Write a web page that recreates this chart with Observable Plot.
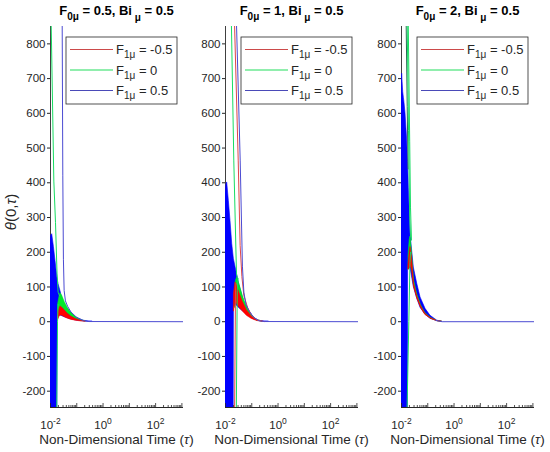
<!DOCTYPE html>
<html><head><meta charset="utf-8">
<script src="https://cdn.jsdelivr.net/npm/d3@7"></script>
<script src="https://cdn.jsdelivr.net/npm/@observablehq/plot@0.6"></script>
<style>
body{margin:0;background:#fff;}
#wrap{position:relative;width:550px;height:452px;overflow:hidden;font-family:"Liberation Sans",Arial,sans-serif;background:#fff;}
#wrap svg{position:absolute;top:0;}
</style></head><body><div id="wrap"></div>
<script>
// ---------- data ----------
const f0Values = ["0.5", "1", "2"];
const biValue = "0.5";
const f1Values = ["-0.5", "0", "0.5"];
const yTicks = [-200, -100, 0, 100, 200, 300, 400, 500, 600, 700, 800];
const xDecades = [0.01, 0.1, 1, 10, 100, 1000];
const xLabelTicks = [0.01, 1, 100];
const xLabelExp = ["-2", "0", "2"];
const xDomain = [0.01, 1150];
const yDomain = [-247, 850];

// Panel 1 : F0 = 0.5
const p1BlueT   = [0.01, 0.0106, 0.0116, 0.0135, 0.0155, 0.0182, 0.0186, 0.0202, 0.024, 0.0279, 0.0372, 0.0578, 0.104, 0.181, 0.28, 0.4];
const p1BlueTop = [235, 248, 252, 215, 175, 128, 124, 108, 88, 68, 45, 25, 11, 3, 0.5, 0];
const p1BlueBot = [-260, -260, -260, -260, -260, -260, 15, 18, 18, 16, 12, 7, 3, 1, 0, 0];
const p1GreenT   = [0.0195, 0.022, 0.024, 0.028, 0.035, 0.045, 0.06, 0.09, 0.14, 0.22];
const p1GreenTop = [50, 72, 82, 74, 56, 40, 27, 14, 5, 1];
const p1GreenBot = [20, 36, 42, 40, 32, 24, 16, 8, 3, 0.5];
const p1RedT   = [0.0195, 0.022, 0.024, 0.028, 0.035, 0.045, 0.06, 0.09, 0.14, 0.22];
const p1RedTop = [28, 38, 44, 40, 32, 23, 15, 8, 3, 0.5];
const p1RedBot = [5, 14, 18, 17, 13, 9, 6, 3, 1, 0];
const p1GreenDownT = [0.0104, 0.0134, 0.0155, 0.0177, 0.0195, 0.022];
const p1GreenDownV = [900, 405, 285, 140, 85, 75];
const p1GreenUpT = [0.0172, 0.0185, 0.0195];
const p1GreenUpV = [-260, 0, 50];
const p1BlueLineT = [0.0277, 0.0294, 0.031, 0.033, 0.037, 0.045, 0.06, 0.1, 0.18, 0.3, 1150];
const p1BlueLineV = [900, 420, 180, 90, 60, 44, 28, 12, 3, 0.5, 0];

// Panel 2 : F0 = 1
const p2BlueT   = [0.01, 0.0108, 0.0116, 0.0134, 0.0155, 0.018, 0.0205, 0.0209, 0.024, 0.0321, 0.0498, 0.0772, 0.1195, 0.185, 0.3, 0.45];
const p2BlueTop = [370, 395, 401, 348, 290, 224, 185, 180, 158, 112, 60, 32, 12, 3, 0.5, 0];
const p2BlueBot = [-260, -260, -260, -260, -260, -260, -260, 40, 50, 40, 28, 16, 7, 2, 0, 0];
const p2GreenT   = [0.0225, 0.025, 0.028, 0.033, 0.045, 0.065, 0.1, 0.16, 0.26];
const p2GreenTop = [90, 118, 128, 110, 75, 42, 18, 5, 0.5];
const p2GreenBot = [40, 70, 85, 75, 50, 28, 12, 3, 0];
const p2RedT   = [0.021, 0.024, 0.028, 0.033, 0.045, 0.065, 0.1, 0.16, 0.26];
const p2RedTop = [80, 113, 100, 85, 58, 33, 14, 4, 0.4];
const p2RedBot = [30, 55, 50, 42, 30, 17, 8, 2, 0];
const p2GreenDownT = [0.0164, 0.0207, 0.0262, 0.028];
const p2GreenDownV = [900, 463, 137, 128];
const p2RedDownT = [0.0213, 0.0305, 0.036, 0.042, 0.05, 0.07, 0.1, 0.16, 0.3];
const p2RedDownV = [900, 463, 220, 130, 75, 40, 18, 5, 0.5];
const p2BlueDownT = [0.0253, 0.0363, 0.044, 0.05, 0.06, 0.08, 0.12, 0.185, 0.3, 1150];
const p2BlueDownV = [900, 463, 160, 85, 50, 30, 12, 3, 0.5, 0];
const p2GreenUpT = [0.0258, 0.0279, 0.03];
const p2GreenUpV = [-260, 89, 125];
const p2RedUpT = [0.0222, 0.024, 0.025];
const p2RedUpV = [-260, 89, 110];

// Panel 3 : F0 = 2
const p3BlueT   = [0.01, 0.0103, 0.0106, 0.011, 0.0116, 0.0123, 0.013, 0.0142, 0.0165, 0.0175, 0.0178, 0.019, 0.022, 0.0294, 0.0397, 0.053, 0.082, 0.127, 0.229, 0.35];
const p3BlueTop = [640, 690, 714, 690, 661, 645, 630, 600, 521, 470, 460, 386, 252, 156, 109, 70, 37, 17, 3, 0];
const p3BlueBot = [-260, -260, -260, -260, -260, -260, -260, -260, -260, -260, 150, 150, 155, 100, 66, 40, 20, 8.5, 1.5, 0];
const p3GreenT   = [0.0185, 0.0205, 0.022, 0.025, 0.03, 0.04, 0.055, 0.08, 0.13, 0.23, 0.35];
const p3GreenTop = [190, 235, 245, 200, 120, 78, 48, 25, 11, 2, 0];
const p3GreenBot = [150, 175, 185, 160, 105, 70, 43, 22, 9.5, 1.8, 0];
const p3RedT   = [0.0185, 0.0205, 0.022, 0.025, 0.03, 0.04, 0.055, 0.08, 0.13, 0.23, 0.35];
const p3RedTop = [165, 200, 215, 185, 110, 72, 45, 23, 10, 1.9, 0];
const p3RedBot = [150, 155, 160, 150, 100, 66, 40, 20, 8.5, 1.5, 0];
const p3DarkDownT = [0.0148, 0.0165, 0.0178];
const p3DarkDownV = [900, 620, 440];
const p3GreenDownAT = [0.0162, 0.0185, 0.0205, 0.022];
const p3GreenDownAV = [900, 550, 300, 245];
const p3GreenDownBT = [0.0178, 0.0205, 0.022, 0.024];
const p3GreenDownBV = [900, 520, 330, 235];
const p3GreenUpT = [0.0162, 0.019, 0.021, 0.022];
const p3GreenUpV = [-260, 0, 170, 200];
const p3BlueLineT = [0.2, 0.35, 1150];
const p3BlueLineV = [4, 0, 0];

// ---------- styles ----------
const FILL = {blue: "#0000ff", green: "#00e82a", red: "#ff0000"};
const LINE = {blue: "#4b4bd2", green: "#18dc62", red: "#e04646", dark: "#2a6a55"};
const LEG = ["#cc4a4a", "#22dd5c", "#4a4ab8"];
const AX = "#262626";
const FONT = "'Liberation Sans', Arial, sans-serif";

const panels = [
  {bands: [[p1BlueT, p1BlueTop, p1BlueBot, FILL.blue], [p1GreenT, p1GreenTop, p1GreenBot, FILL.green], [p1RedT, p1RedTop, p1RedBot, FILL.red]],
   lines: [[p1GreenDownT, p1GreenDownV, LINE.green], [p1GreenUpT, p1GreenUpV, LINE.green], [p1BlueLineT, p1BlueLineV, LINE.blue]]},
  {bands: [[p2BlueT, p2BlueTop, p2BlueBot, FILL.blue], [p2GreenT, p2GreenTop, p2GreenBot, FILL.green], [p2RedT, p2RedTop, p2RedBot, FILL.red]],
   lines: [[p2GreenDownT, p2GreenDownV, LINE.green], [p2RedDownT, p2RedDownV, LINE.red], [p2GreenUpT, p2GreenUpV, LINE.green], [p2RedUpT, p2RedUpV, LINE.red], [p2BlueDownT, p2BlueDownV, LINE.blue]]},
  {bands: [[p3BlueT, p3BlueTop, p3BlueBot, FILL.blue], [p3GreenT, p3GreenTop, p3GreenBot, FILL.green], [p3RedT, p3RedTop, p3RedBot, FILL.red]],
   lines: [[p3DarkDownT, p3DarkDownV, LINE.dark], [p3GreenDownAT, p3GreenDownAV, LINE.green], [p3GreenDownBT, p3GreenDownBV, LINE.green], [p3GreenUpT, p3GreenUpV, LINE.green], [p3BlueLineT, p3BlueLineV, LINE.blue]]}
];

// ---------- layout ----------
const frameLefts = [50, 225, 401];
const frameW = 133, mL = 40, mR = 4, mTop = 26, mBottom = 45, H = 452;
const frameH = H - mTop - mBottom;
const minorTicks = [];
xDecades.slice(0, -1).forEach(d => [2,3,4,5,6,7,8,9].forEach(m => minorTicks.push(d * m)));

const wrap = document.getElementById("wrap");
const NS = "http://www.w3.org/2000/svg";

panels.forEach((p, i) => {
  const band = ([T, top, bot, fill]) => Plot.areaY(d3.range(T.length), {
    x: j => T[j], y1: j => bot[j], y2: j => top[j], fill, stroke: fill, strokeWidth: 0.6, clip: true});
  const line = ([T, V, stroke]) => Plot.line(d3.range(T.length), {
    x: j => T[j], y: j => V[j], stroke, strokeWidth: 1, clip: true});
  const svg = Plot.plot({
    width: mL + frameW + mR, height: H,
    marginLeft: mL, marginRight: mR, marginTop: mTop, marginBottom: mBottom,
    x: {type: "log", domain: xDomain},
    y: {domain: yDomain},
    style: {fontFamily: FONT, fontSize: "11.5px", color: AX, background: "transparent", overflow: "visible"},
    marks: [
      Plot.ruleX([xDomain[0]], {stroke: "#404040", strokeWidth: 1}),
      ...p.bands.map(band),
      ...p.lines.map(line),
      Plot.tickX(minorTicks, {x: d => d, insetTop: frameH - 2, stroke: AX, strokeWidth: 0.8}),
      Plot.tickX(xDecades, {x: d => d, insetTop: frameH - 4, stroke: AX, strokeWidth: 0.8}),
      Plot.ruleY([yDomain[0]], {stroke: AX, strokeWidth: 1}),
      Plot.axisY({ticks: yTicks, tickSize: 3, tickPadding: 2, label: null, tickFormat: d => String(d), stroke: AX}),
      Plot.axisX({ticks: xLabelTicks, tickSize: 0, tickPadding: 13, label: null,
                  tickFormat: d => "10^" + xLabelExp[xLabelTicks.indexOf(d)]})
    ]
  });
  svg.style.left = (frameLefts[i] - mL) + "px";
  svg.querySelectorAll('g[aria-label="x-axis tick label"] text').forEach(t => {
    const [b, e] = t.textContent.split("^");
    t.textContent = b;
    const ts = document.createElementNS(NS, "tspan");
    ts.setAttribute("dy", "-0.5em");
    ts.setAttribute("font-size", "8.5px");
    ts.textContent = e;
    t.appendChild(ts);
  });
  wrap.appendChild(svg);
});

// ---------- titles, legends, axis labels ----------
const ov = d3.select(wrap).append("svg").attr("width", 550).attr("height", 452)
  .style("left", "0px").style("font-family", FONT).style("pointer-events", "none");

frameLefts.forEach((L, i) => {
  const cx = L + frameW / 2;
  const t = ov.append("text").attr("x", cx).attr("y", 15).attr("text-anchor", "middle")
    .attr("font-weight", "bold").attr("font-size", 13).attr("fill", "#000");
  t.append("tspan").text("F");
  t.append("tspan").attr("dy", 4.5).attr("font-size", 10).text("0μ");
  t.append("tspan").attr("dy", -4.5).text(" = " + f0Values[i] + ", Bi");
  t.append("tspan").attr("dy", 6).attr("font-size", 10).text(" μ");
  t.append("tspan").attr("dy", -6).text(" = " + biValue);

  const bx = L + 16, by = 37;
  ov.append("rect").attr("x", bx).attr("y", by).attr("width", 111).attr("height", 67)
    .attr("fill", "#fff").attr("stroke", AX).attr("stroke-width", 0.8);
  const rows = [by + 12.5, by + 33, by + 53.5];
  f1Values.forEach((v, k) => {
    ov.append("line").attr("x1", bx + 4).attr("x2", bx + 47).attr("y1", rows[k]).attr("y2", rows[k])
      .attr("stroke", LEG[k]).attr("stroke-width", 1.1);
    const lt = ov.append("text").attr("x", bx + 50).attr("y", rows[k] + 4.5).attr("font-size", 13).attr("fill", AX);
    lt.append("tspan").text("F");
    lt.append("tspan").attr("dy", 4).attr("font-size", 10).text("1μ");
    lt.append("tspan").attr("dy", -4).text(" = " + v);
  });

  const xl = ov.append("text").attr("x", cx).attr("y", 444).attr("text-anchor", "middle")
    .attr("font-size", 13.5).attr("fill", AX);
  xl.append("tspan").text("Non-Dimensional Time (");
  xl.append("tspan").attr("font-style", "italic").text("τ");
  xl.append("tspan").text(")");
});

const yl = ov.append("text").attr("transform", "translate(16,212) rotate(-90)")
  .attr("text-anchor", "middle").attr("font-size", 15).attr("fill", AX);
yl.append("tspan").attr("font-style", "italic").text("θ");
yl.append("tspan").text("(0,");
yl.append("tspan").attr("font-style", "italic").text("τ");
yl.append("tspan").text(")");
</script>
</body></html>
